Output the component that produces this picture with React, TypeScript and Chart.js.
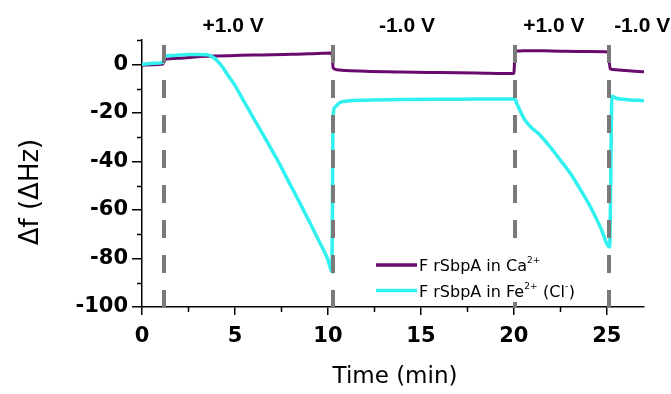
import React, { useEffect, useRef } from 'react';
import { Chart, registerables } from 'chart.js';

Chart.register(...registerables);

// ---- data ----
const caTime = [0, 0.6, 1.12, 1.2, 2, 3, 4, 5, 6, 7, 8, 9, 10.22, 10.28, 10.5, 11, 12, 14, 16, 18, 20.0, 20.07, 20.5, 22, 24, 25.1, 25.17, 25.5, 26, 27];
const caValues = [-0.4, -0.2, 0.1, 1.9, 2.5, 3.1, 3.4, 3.6, 3.8, 3.9, 4.1, 4.3, 4.6, -1.5, -2.3, -2.6, -2.9, -3.2, -3.4, -3.6, -3.8, 5.4, 5.6, 5.5, 5.3, 5.1, -1.8, -2.3, -2.6, -3.1];

const feTime = [0, 0.6, 1.12, 1.2, 1.6, 2, 2.5, 3, 3.5, 3.8, 4.0, 4.3, 4.55, 5.0, 5.26, 5.7, 6.16, 6.7, 7.24, 8, 8.5, 9, 9.5, 10, 10.22, 10.27, 10.4, 10.6, 11, 12, 14, 17, 20.05, 20.15, 20.3, 20.6, 21, 21.4, 22, 22.5, 23, 23.57, 24.1, 24.65, 25.15, 25.28, 25.5, 26, 27];
const feValues = [0, 0.4, 0.8, 3.2, 3.6, 3.8, 4.0, 4.0, 3.9, 3.0, 1.8, -0.8, -3.7, -8.7, -12.2, -18.2, -24.3, -31.5, -38.8, -50.0, -57.3, -64.8, -72.5, -80.5, -85.5, -22, -17.5, -16, -15.2, -14.8, -14.5, -14.4, -14.3, -16, -18.5, -23, -26.5, -29.1, -34.5, -39.5, -44.5, -51.5, -58.5, -67, -75.2, -13.2, -14, -14.5, -15];

const xTicks = [0, 5, 10, 15, 20, 25];
const xMinorTicks = [2.5, 7.5, 12.5, 17.5, 22.5];
const yTicks = [-100, -80, -60, -40, -20, 0];
const yMinorTicks = [-90, -70, -50, -30, -10, 10];

const switchTimes = [1.16, 10.27, 20.05, 25.12];
const voltageLabels = ['+1.0 V', '-1.0 V', '+1.0 V', '-1.0 V'];
const voltageLabelX = [4.9, 14.25, 22.15, 26.9];

const caLabel = 'F rSbpA in Ca²⁺';
const feLabel = 'F rSbpA in Fe²⁺ (Cl⁻)';
const caLegendParts: [string, boolean][] = [['F rSbpA in Ca', false], ['2+', true]];
const feLegendParts: [string, boolean][] = [['F rSbpA in Fe', false], ['2+', true], [' (Cl', false], ['-', true], [')', false]];

const xTitle = 'Time (min)';
const yTitle = 'Δf (ΔHz)';

const PURPLE = '#6A0A6E';
const CYAN = '#30F0F0';

const overlay = {
  id: 'overlay',
  afterDatasetsDraw(chart: any) {
    const { ctx, chartArea } = chart;
    const x = chart.scales.x;
    ctx.save();
    ctx.strokeStyle = '#7a7a7a';
    ctx.lineWidth = 4;
    ctx.setLineDash([18, 17]);
    for (const t of switchTimes) {
      const px = Math.round(x.getPixelForValue(t));
      ctx.beginPath();
      ctx.moveTo(px, chartArea.top + 5);
      ctx.lineTo(px, chartArea.bottom + 1);
      ctx.stroke();
    }
    ctx.restore();
  },
  afterDraw(chart: any) {
    const { ctx, chartArea } = chart;
    const x = chart.scales.x;
    const y = chart.scales.y;
    ctx.save();
    // minor ticks
    ctx.strokeStyle = '#000';
    ctx.lineWidth = 1.5;
    for (const v of xMinorTicks) {
      const px = Math.round(x.getPixelForValue(v)) + 0.5;
      ctx.beginPath();
      ctx.moveTo(px, chartArea.bottom);
      ctx.lineTo(px, chartArea.bottom + 5);
      ctx.stroke();
    }
    for (const v of yMinorTicks) {
      const py = Math.round(y.getPixelForValue(v)) + 0.5;
      ctx.beginPath();
      ctx.moveTo(chartArea.left, py);
      ctx.lineTo(chartArea.left - 5, py);
      ctx.stroke();
    }
    // voltage labels
    ctx.fillStyle = '#000';
    ctx.font = "bold 21px 'Liberation Sans', Arial, sans-serif";
    ctx.textAlign = 'center';
    ctx.textBaseline = 'alphabetic';
    voltageLabels.forEach((lab, i) => {
      ctx.fillText(lab, x.getPixelForValue(voltageLabelX[i]), 32);
    });
    // axis titles
    ctx.font = "23px 'DejaVu Sans', sans-serif";
    ctx.textBaseline = 'middle';
    ctx.fillText(xTitle, 395, 377);
    ctx.save();
    ctx.translate(31, 192);
    ctx.rotate(-Math.PI / 2);
    ctx.font = "26px 'DejaVu Sans', sans-serif";
    ctx.fillText(yTitle, 0, 0);
    ctx.restore();
    // legend background
    ctx.fillStyle = '#fff';
    ctx.fillRect(368, 248, 230, 54);
    ctx.fillStyle = '#000';
    // legend
    const rows: [any, string, number][] = [
      [caLegendParts, PURPLE, 265],
      [feLegendParts, CYAN, 290.5],
    ];
    for (const [parts, color, cy] of rows) {
      ctx.strokeStyle = color;
      ctx.lineWidth = 3.5;
      ctx.beginPath();
      ctx.moveTo(376, cy);
      ctx.lineTo(417, cy);
      ctx.stroke();
      let tx = 419;
      const base = cy + 6.2;
      ctx.textAlign = 'left';
      ctx.textBaseline = 'alphabetic';
      for (const [txt, sup] of parts) {
        ctx.font = sup ? "9px 'DejaVu Sans', sans-serif" : "16px 'DejaVu Sans', sans-serif";
        ctx.fillText(txt, tx, sup ? base - 8 : base);
        tx += ctx.measureText(txt).width + (sup ? 0.5 : 0);
      }
    }
    ctx.restore();
  },
};

export default function App() {
  const ref = useRef<HTMLCanvasElement>(null);
  useEffect(() => {
    document.body.style.margin = '0';
    const canvas = ref.current!;
    const tickFont = { family: "'DejaVu Sans', sans-serif", weight: 'bold' as const, size: 21 };
    const chart = new Chart(canvas, {
      type: 'line',
      data: {
        datasets: [
          {
            label: caLabel,
            data: caTime.map((t, i) => ({ x: t, y: caValues[i] })),
            borderColor: PURPLE,
            backgroundColor: PURPLE,
            borderWidth: 3,
            pointRadius: 0,
            cubicInterpolationMode: 'monotone',
            order: 1,
          },
          {
            label: feLabel,
            data: feTime.map((t, i) => ({ x: t, y: feValues[i] })),
            borderColor: CYAN,
            backgroundColor: CYAN,
            borderWidth: 3.5,
            pointRadius: 0,
            cubicInterpolationMode: 'monotone',
            order: 0,
          },
        ],
      },
      options: {
        responsive: false,
        animation: false,
        devicePixelRatio: 1,
        layout: { padding: { top: 40, right: 27, left: 0, bottom: 0 } },
        plugins: { legend: { display: false }, tooltip: { enabled: false } },
        scales: {
          x: {
            type: 'linear',
            min: 0,
            max: 27,
            afterBuildTicks: (s: any) => { s.ticks = xTicks.map((v) => ({ value: v })); },
            afterFit: (s: any) => { s.height = 87; },
            ticks: { font: tickFont, color: '#000', padding: 9, maxRotation: 0 },
            grid: { drawOnChartArea: false, drawTicks: true, tickLength: 8, color: '#000', lineWidth: 1.5 },
            border: { color: '#000', width: 1.5 },
          },
          y: {
            type: 'linear',
            min: -100,
            max: 10,
            afterBuildTicks: (s: any) => { s.ticks = yTicks.map((v) => ({ value: v })); },
            afterFit: (s: any) => { s.width = 142; },
            ticks: { font: tickFont, color: '#000', padding: 4 },
            grid: { drawOnChartArea: false, drawTicks: true, tickLength: 10, color: '#000', lineWidth: 1.5 },
            border: { color: '#000', width: 1.5 },
          },
        },
      },
      plugins: [overlay],
    });
    return () => chart.destroy();
  }, []);
  return (
    <div style={{ width: 671, height: 394 }}>
      <canvas ref={ref} width={671} height={394} style={{ display: 'block' }} />
    </div>
  );
}
